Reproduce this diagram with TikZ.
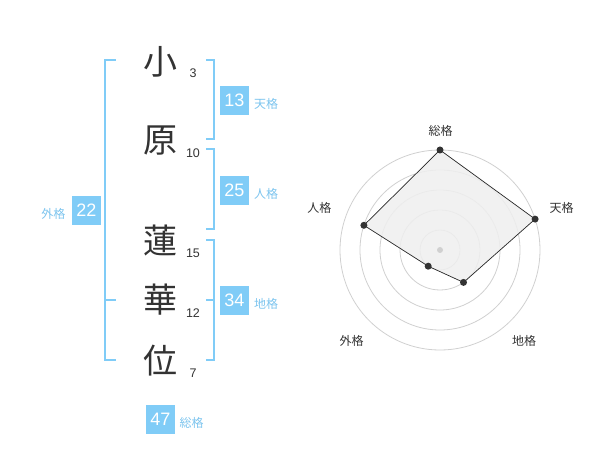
\documentclass[tikz,border=0pt]{standalone}
\usepackage{fontspec}
\setmainfont{Liberation Sans}
\newfontfamily\cjk{Noto Sans CJK JP}
\definecolor{kblue}{HTML}{80CCF7}
\definecolor{klabel}{HTML}{7CC4EE}
\definecolor{ktext}{HTML}{333333}
\definecolor{kgrid}{HTML}{D0D0D0}
\definecolor{kfill}{HTML}{EFEFEF}
\tikzset{
  kanji/.style={font=\cjk\fontsize{34}{34}\selectfont, text=ktext, inner sep=0pt},
  strokes/.style={font=\fontsize{12.5}{13}\selectfont, text=ktext, inner sep=0pt},
  valbox/.style={fill=kblue, text=white, font=\fontsize{18}{18}\selectfont, minimum width=29pt, minimum height=29pt, inner sep=0pt},
  kaku/.style={font=\cjk\fontsize{12}{12}\selectfont, text=klabel, inner sep=0pt},
  bracket/.style={draw=kblue, line width=2pt},
  ring/.style={draw=kgrid, line width=0.8pt},
  axislabel/.style={font=\cjk\fontsize{12}{12}\selectfont, text=ktext, inner sep=0pt},
  dot/.style={circle, fill=ktext, minimum size=7pt, inner sep=0pt},
}
\begin{document}
\begin{tikzpicture}[x=1pt,y=-1pt]
\useasboundingbox (0,0) rectangle (600,470);
% characters
\node[kanji] (c1) at (160,62) {小};
\node[kanji] (c2) at (160,141) {原};
\node[kanji] (c3) at (160,240) {蓮};
\node[kanji] (c4) at (160,300) {華};
\node[kanji] (c5) at (160,361) {位};
% stroke counts
\node[strokes] (n1) at (193,73) {3};
\node[strokes] (n2) at (193,153) {10};
\node[strokes] (n3) at (193,253) {15};
\node[strokes] (n4) at (193,313) {12};
\node[strokes] (n5) at (193,373) {7};
% brackets
\draw[bracket] (115.7,60) -- (105,60) -- (105,360) -- (115.7,360);
\draw[bracket] (105,300) -- (115.7,300);
\draw[bracket] (206,60) -- (214,60) -- (214,139) -- (206,139);
\draw[bracket] (206,149) -- (214,149) -- (214,229) -- (206,229);
\draw[bracket] (206,240) -- (214,240) -- (214,360) -- (206,360);
\draw[bracket] (214,300) -- (206,300);
% value boxes
\node[valbox] (ten) at (234.5,100.5) {13};
\node[kaku] (tenl) at (266,104) {天格};
\node[valbox] (jin) at (234.5,190.5) {25};
\node[kaku] (jinl) at (266,194) {人格};
\node[valbox] (gai) at (86.3,210.5) {22};
\node[kaku] (gail) at (53.3,214) {外格};
\node[valbox] (chi) at (234.5,300.5) {34};
\node[kaku] (chil) at (266,304) {地格};
\node[valbox] (sou) at (160.5,419) {47};
\node[kaku] (soul) at (191.5,422.7) {総格};
% radar
\coordinate (rc) at (440,250);
\foreach \r in {20,40,60,80,100} \draw[ring] (rc) circle (\r);
\coordinate (p1) at (440,150);
\coordinate (p2) at (535.1,219.1);
\coordinate (p3) at (463.5,282.4);
\coordinate (p4) at (428.2,266.2);
\coordinate (p5) at (363.9,225.3);
\draw[fill=kfill, fill opacity=0.85, draw=black!85, line width=0.7pt] (p1) -- (p2) -- (p3) -- (p4) -- (p5) -- cycle;
\node[circle, fill=kgrid, minimum size=6pt, inner sep=0pt] (ctr) at (rc) {};
\foreach \p in {p1,p2,p3,p4,p5} \node[dot] at (\p) {};
\node[axislabel] (a1) at (440.7,130.7) {総格};
\node[axislabel] (a2) at (561.7,208.3) {天格};
\node[axislabel] (a3) at (524,341) {地格};
\node[axislabel] (a4) at (351.7,341) {外格};
\node[axislabel] (a5) at (319.3,208.3) {人格};
\end{tikzpicture}
\end{document}
